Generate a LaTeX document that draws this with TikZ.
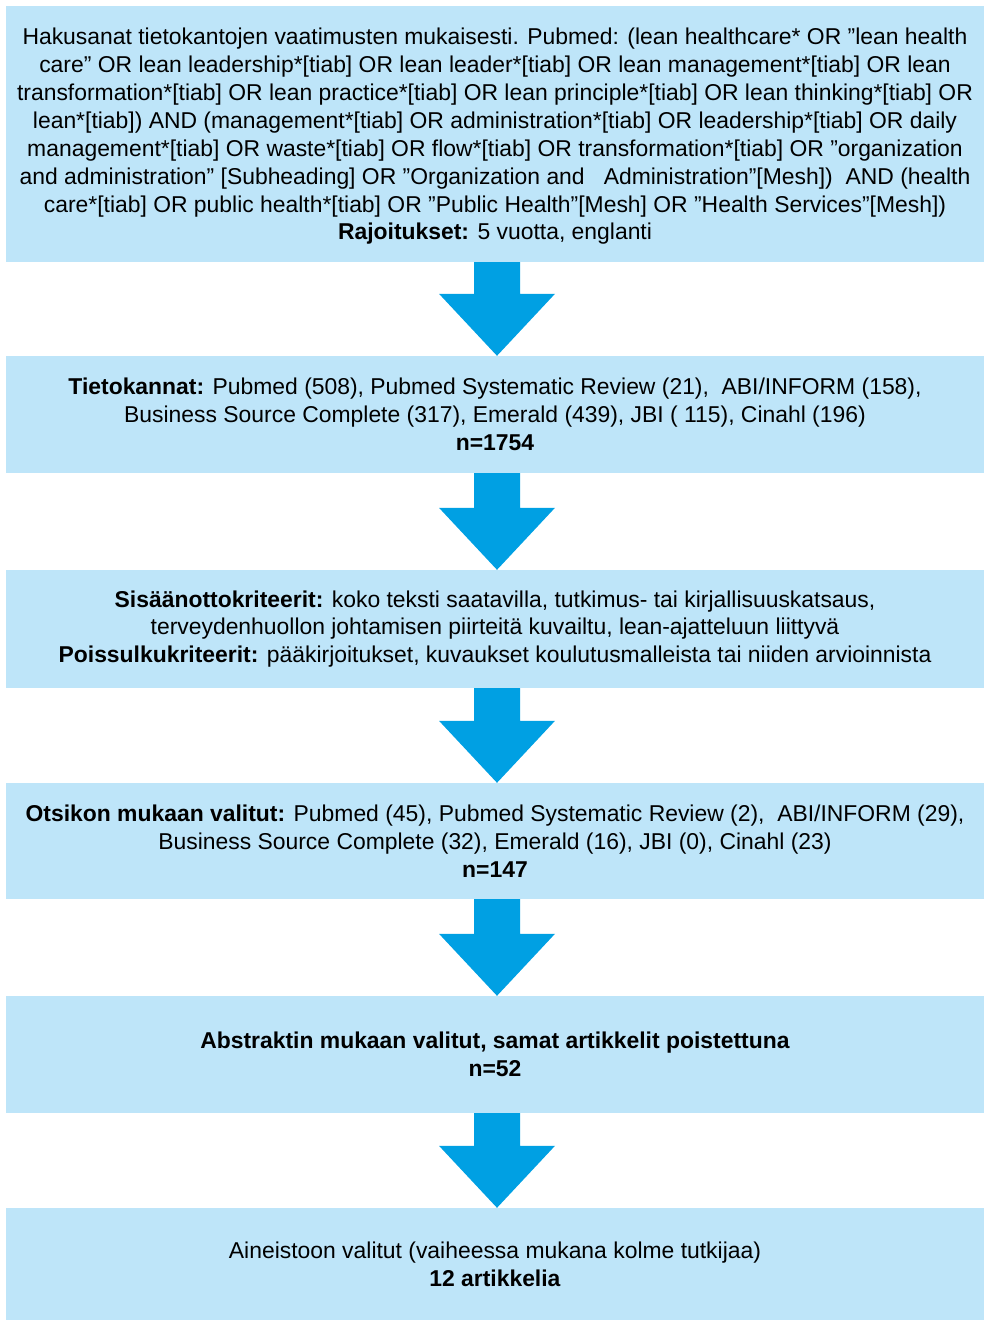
\documentclass[tikz,border=0pt]{standalone}
\usepackage{fontspec}
\setmainfont{Liberation Sans}
\usetikzlibrary{calc}
\definecolor{boxblue}{RGB}{190,229,249}
\definecolor{arrowblue}{RGB}{0,160,227}
\tikzset{
  stepbox/.style={fill=boxblue, draw=none, minimum width=978pt, inner xsep=0pt,
    align=center, font=\fontsize{22.9}{27.9}\selectfont},
  flowarrow/.style={fill=arrowblue, draw=none}
}
\begin{document}
\begin{tikzpicture}[x=1pt, y=-1pt]
\useasboundingbox (0,0) rectangle (984,1320);

\node[stepbox, minimum height=256pt, text depth=-3pt] (search) at (495,134) {Hakusanat tietokantojen vaatimusten mukaisesti. Pubmed: (lean healthcare* OR ”lean health\\
care” OR lean leadership*[tiab] OR lean leader*[tiab] OR lean management*[tiab] OR lean\\
transformation*[tiab] OR lean practice*[tiab] OR lean principle*[tiab] OR lean thinking*[tiab] OR\\
lean*[tiab]) AND (management*[tiab] OR administration*[tiab] OR leadership*[tiab] OR daily\\
management*[tiab] OR waste*[tiab] OR flow*[tiab] OR transformation*[tiab] OR ”organization\\
and administration” [Subheading] OR ”Organization and\ \ \ Administration”[Mesh])\ \ AND (health\\
care*[tiab] OR public health*[tiab] OR ”Public Health”[Mesh] OR ”Health Services”[Mesh])\\
\textbf{Rajoitukset:} 5 vuotta, englanti};

\node[stepbox, minimum height=117pt] (bases) at (495,414.5) {\textbf{Tietokannat:} Pubmed (508), Pubmed Systematic Review (21),\ \ ABI/INFORM (158),\\
Business Source Complete (317), Emerald (439), JBI (\ 115), Cinahl (196)\\
\textbf{n=1754}};

\node[stepbox, minimum height=118pt] (criteria) at (495,629) {\textbf{Sisäänottokriteerit:} koko teksti saatavilla, tutkimus- tai kirjallisuuskatsaus,\\
terveydenhuollon johtamisen piirteitä kuvailtu, lean-ajatteluun liittyvä\\
\textbf{Poissulkukriteerit:} pääkirjoitukset, kuvaukset koulutusmalleista tai niiden arvioinnista};

\node[stepbox, minimum height=116pt] (titles) at (495,841) {\textbf{Otsikon mukaan valitut:} Pubmed (45), Pubmed Systematic Review (2),\ \ ABI/INFORM (29),\\
Business Source Complete (32), Emerald (16), JBI (0), Cinahl (23)\\
\textbf{n=147}};

\node[stepbox, minimum height=117pt] (abstracts) at (495,1054.5) {\textbf{Abstraktin mukaan valitut, samat artikkelit poistettuna}\\
\textbf{n=52}};

\node[stepbox, minimum height=112pt] (final) at (495,1264) {Aineistoon valitut (vaiheessa mukana kolme tutkijaa)\\
\textbf{12 artikkelia}};

%
\foreach \a/\b in {search/bases, bases/criteria, criteria/titles, titles/abstracts, abstracts/final}
  \fill[flowarrow]
       ($(\a.south)+(-21,0)$)
    -- ($(\b.north)+(-21,-62)$)
    -- ($(\b.north)+(-56,-62)$)
    -- ($(\b.north)+(2,0)$)
    -- ($(\b.north)+(60,-62)$)
    -- ($(\b.north)+(25,-62)$)
    -- ($(\a.south)+(25,0)$)
    -- cycle;
\end{tikzpicture}
\end{document}
